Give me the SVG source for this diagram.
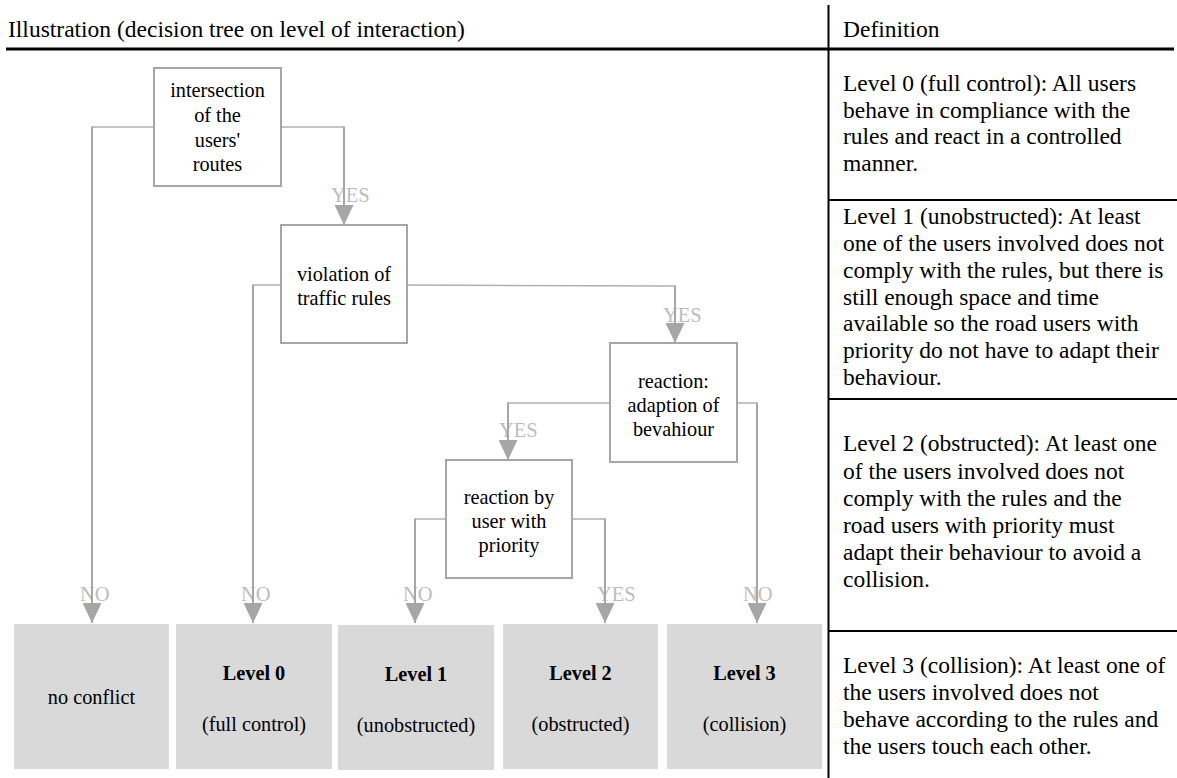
<svg xmlns="http://www.w3.org/2000/svg" width="1177" height="778" viewBox="0 0 1177 778" font-family="'Liberation Serif','Times New Roman',serif">
<style>
.hd{font-size:23.5px}
.df{font-size:23.5px}
.nt{font-size:20.3px;text-anchor:middle}
.bt{font-size:20.3px;text-anchor:middle}
.bb{font-weight:bold}
.lb{font-size:20.5px;fill:#bdbdbd}
.box{fill:#fff;stroke:#a6a6a6;stroke-width:2}
.leaf{fill:#d9d9d9}
.h{stroke:#b0b0b0;stroke-width:1.5;fill:none}
.v{stroke:#a6a6a6;stroke-width:2;fill:none}
.rule{stroke:#000;stroke-width:2}
</style>
<defs>
<marker id="ah" viewBox="0 0 20 19" refX="20" refY="9.5" markerWidth="20" markerHeight="19" orient="auto" markerUnits="userSpaceOnUse">
<path d="M0,0 L20,9.5 L0,19 z" fill="#a6a6a6"/>
</marker>
</defs>
<rect width="1177" height="778" fill="#fff"/>
<g id="table">
<text class="hd" x="8" y="37">Illustration (decision tree on level of interaction)</text>
<text class="hd" x="843" y="37">Definition</text>
<line x1="6" y1="49" x2="1174" y2="49" stroke="#000" stroke-width="3"/>
<line x1="828.5" y1="5" x2="828.5" y2="778" class="rule"/>
<line x1="828" y1="200" x2="1177" y2="200" class="rule"/>
<line x1="828" y1="399" x2="1177" y2="399" class="rule"/>
<line x1="828" y1="631" x2="1177" y2="631" class="rule"/>
</g>
<g id="def0">
<text class="df" x="843" y="91">Level 0 (full control): All users</text>
<text class="df" x="843" y="117.5">behave in compliance with the</text>
<text class="df" x="843" y="144">rules and react in a controlled</text>
<text class="df" x="843" y="170.5">manner.</text>
</g>
<g id="def1">
<text class="df" x="843" y="224">Level 1 (unobstructed): At least</text>
<text class="df" x="843" y="251">one of the users involved does not</text>
<text class="df" x="843" y="278">comply with the rules, but there is</text>
<text class="df" x="843" y="304.5">still enough space and time</text>
<text class="df" x="843" y="331">available so the road users with</text>
<text class="df" x="843" y="358">priority do not have to adapt their</text>
<text class="df" x="843" y="385">behaviour.</text>
</g>
<g id="def2">
<text class="df" x="843" y="451">Level 2 (obstructed): At least one</text>
<text class="df" x="843" y="478.5">of the users involved does not</text>
<text class="df" x="843" y="505.5">comply with the rules and the</text>
<text class="df" x="843" y="532.5">road users with priority must</text>
<text class="df" x="843" y="559.5">adapt their behaviour to avoid a</text>
<text class="df" x="843" y="586.5">collision.</text>
</g>
<g id="def3">
<text class="df" x="843" y="673">Level 3 (collision): At least one of</text>
<text class="df" x="843" y="700">the users involved does not</text>
<text class="df" x="843" y="727">behave according to the rules and</text>
<text class="df" x="843" y="754">the users touch each other.</text>
</g>
<g id="connectors">
<text class="lb" x="331" y="202">YES</text>
<text class="lb" x="663" y="322">YES</text>
<text class="lb" x="499" y="437">YES</text>
<text class="lb" x="80" y="601">NO</text>
<text class="lb" x="241" y="601">NO</text>
<text class="lb" x="403" y="601">NO</text>
<text class="lb" x="597" y="601">YES</text>
<text class="lb" x="743" y="601">NO</text>
<path class="h" d="M154,127 H92"/>
<path class="v" d="M92,126.5 V623" marker-end="url(#ah)"/>
<path class="h" d="M281,127 H344"/>
<path class="v" d="M344,126.5 V225" marker-end="url(#ah)"/>
<path class="h" d="M281,285 H253"/>
<path class="v" d="M253,284.5 V623" marker-end="url(#ah)"/>
<path class="h" d="M407,285 L675,286"/>
<path class="v" d="M675,285.5 V343" marker-end="url(#ah)"/>
<path class="h" d="M610,403 H508"/>
<path class="v" d="M508,402.5 V460" marker-end="url(#ah)"/>
<path class="h" d="M737,403 H757"/>
<path class="v" d="M757,402.5 V623" marker-end="url(#ah)"/>
<path class="h" d="M446,519 H415"/>
<path class="v" d="M415,518.5 V623" marker-end="url(#ah)"/>
<path class="h" d="M572,519 H605"/>
<path class="v" d="M605,518.5 V623" marker-end="url(#ah)"/>
</g>
<g id="n1">
<rect class="box" x="154" y="68" width="127" height="118"/>
<text class="nt" x="217.5" y="97">intersection</text>
<text class="nt" x="217.5" y="122">of the</text>
<text class="nt" x="217.5" y="146.5">users'</text>
<text class="nt" x="217.5" y="171">routes</text>
</g>
<g id="n2">
<rect class="box" x="281" y="225" width="126" height="118"/>
<text class="nt" x="344" y="281">violation of</text>
<text class="nt" x="344" y="305">traffic rules</text>
</g>
<g id="n3">
<rect class="box" x="610" y="343" width="127" height="119"/>
<text class="nt" x="673.5" y="388">reaction:</text>
<text class="nt" x="673.5" y="412">adaption of</text>
<text class="nt" x="673.5" y="435.5">bevahiour</text>
</g>
<g id="n4">
<rect class="box" x="446" y="460" width="126" height="118"/>
<text class="nt" x="509" y="503.5">reaction by</text>
<text class="nt" x="509" y="527.5">user with</text>
<text class="nt" x="509" y="551.5">priority</text>
</g>
<g id="leaf-none">
<rect class="leaf" x="14" y="624" width="155" height="145"/>
<text class="bt" x="91.5" y="704">no conflict</text>
</g>
<g id="leaf-0">
<rect class="leaf" x="176" y="624" width="156" height="145"/>
<text class="bt bb" x="254" y="680">Level 0</text>
<text class="bt" x="254" y="731">(full control)</text>
</g>
<g id="leaf-1">
<rect class="leaf" x="338" y="625" width="156" height="145"/>
<text class="bt bb" x="416" y="681">Level 1</text>
<text class="bt" x="416" y="732">(unobstructed)</text>
</g>
<g id="leaf-2">
<rect class="leaf" x="503" y="624" width="155" height="145"/>
<text class="bt bb" x="580.5" y="680">Level 2</text>
<text class="bt" x="580.5" y="731">(obstructed)</text>
</g>
<g id="leaf-3">
<rect class="leaf" x="667" y="624" width="155" height="145"/>
<text class="bt bb" x="744.5" y="680">Level 3</text>
<text class="bt" x="744.5" y="731">(collision)</text>
</g>
</svg>
